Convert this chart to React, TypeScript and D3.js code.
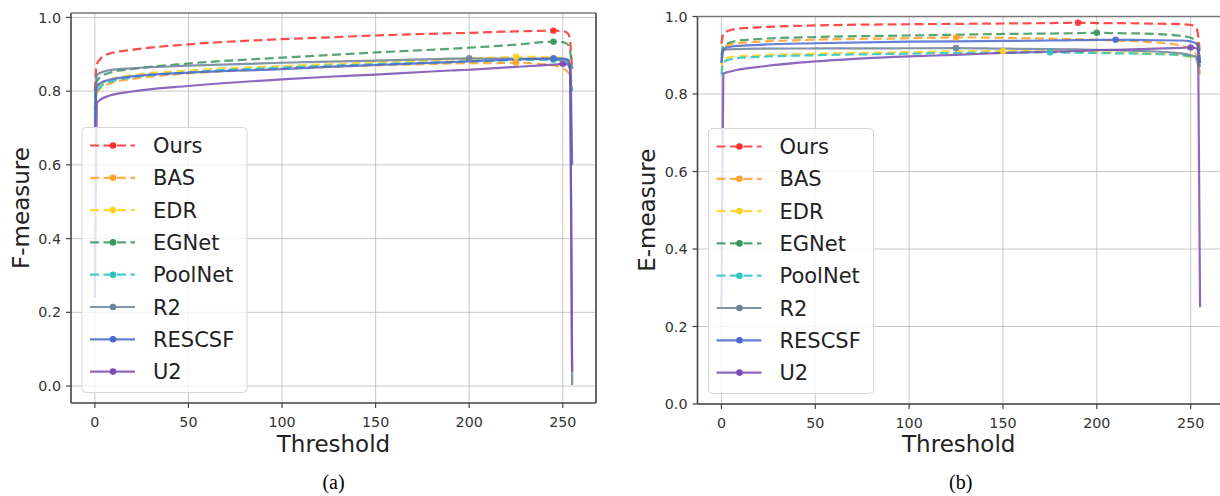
import React from 'react';
import * as d3 from 'd3';

// thresholds shared by all curves
const thresholds = [0, 1, 3, 8, 20, 50, 100, 125, 150, 175, 190, 200, 210, 225, 245, 250, 253, 254, 255];

const methods = ['Ours', 'BAS', 'EDR', 'EGNet', 'PoolNet', 'R2', 'RESCSF', 'U2'];
const colors = ['#ff2d2d', '#ffa12a', '#ffd21f', '#3a955c', '#2cc3c0', '#6c8399', '#4a68cc', '#7a4db3'];
const dashed = [true, true, true, true, true, false, false, false];

// F-measure (a)
const fOurs = [0.80, 0.872, 0.888, 0.902, 0.912, 0.927, 0.941, 0.946, 0.951, 0.955, 0.957, 0.958, 0.960, 0.962, 0.964, 0.963, 0.955, 0.93, 0.86];
const fBAS = [0.72, 0.795, 0.808, 0.821, 0.833, 0.848, 0.861, 0.866, 0.870, 0.873, 0.875, 0.876, 0.876, 0.877, 0.870, 0.862, 0.85, 0.83, 0.80];
const fEDR = [0.74, 0.805, 0.818, 0.831, 0.843, 0.856, 0.868, 0.873, 0.878, 0.883, 0.886, 0.888, 0.890, 0.893, 0.892, 0.89, 0.88, 0.85, 0.80];
const fEGNet = [0.78, 0.826, 0.838, 0.850, 0.860, 0.875, 0.891, 0.898, 0.905, 0.911, 0.915, 0.918, 0.921, 0.926, 0.934, 0.933, 0.925, 0.905, 0.86];
const fPoolNet = [0.73, 0.80, 0.812, 0.825, 0.837, 0.851, 0.864, 0.869, 0.873, 0.877, 0.879, 0.881, 0.882, 0.884, 0.885, 0.883, 0.875, 0.85, 0.80];
const fR2 = [0.75, 0.842, 0.850, 0.857, 0.862, 0.869, 0.877, 0.880, 0.883, 0.886, 0.888, 0.889, 0.888, 0.888, 0.887, 0.886, 0.88, 0.85, 0.003];
const fRESCSF = [0.70, 0.812, 0.822, 0.831, 0.840, 0.850, 0.860, 0.866, 0.871, 0.876, 0.879, 0.881, 0.883, 0.886, 0.889, 0.888, 0.885, 0.86, 0.60];
const fU2 = [0.24, 0.767, 0.777, 0.788, 0.799, 0.814, 0.832, 0.839, 0.845, 0.852, 0.856, 0.858, 0.861, 0.866, 0.872, 0.874, 0.872, 0.86, 0.04];

// E-measure (b)
const eOurs = [0.93, 0.955, 0.962, 0.968, 0.972, 0.977, 0.980, 0.981, 0.982, 0.983, 0.984, 0.983, 0.983, 0.982, 0.980, 0.978, 0.970, 0.95, 0.90];
const eBAS = [0.89, 0.918, 0.925, 0.931, 0.935, 0.940, 0.944, 0.946, 0.945, 0.943, 0.941, 0.940, 0.938, 0.935, 0.925, 0.915, 0.90, 0.88, 0.85];
const eEDR = [0.86, 0.888, 0.893, 0.897, 0.900, 0.904, 0.908, 0.910, 0.911, 0.910, 0.909, 0.908, 0.907, 0.905, 0.90, 0.895, 0.885, 0.87, 0.85];
const eEGNet = [0.90, 0.923, 0.930, 0.937, 0.942, 0.947, 0.951, 0.953, 0.955, 0.956, 0.957, 0.958, 0.957, 0.956, 0.950, 0.945, 0.935, 0.92, 0.88];
const ePoolNet = [0.85, 0.882, 0.887, 0.892, 0.896, 0.900, 0.904, 0.906, 0.9065, 0.9075, 0.9065, 0.906, 0.905, 0.904, 0.90, 0.897, 0.89, 0.88, 0.86];
const eR2 = [0.88, 0.912, 0.915, 0.916, 0.917, 0.9175, 0.918, 0.9185, 0.917, 0.916, 0.915, 0.914, 0.913, 0.911, 0.905, 0.90, 0.895, 0.89, 0.87];
const eRESCSF = [0.88, 0.915, 0.920, 0.924, 0.927, 0.931, 0.935, 0.936, 0.937, 0.938, 0.939, 0.9395, 0.940, 0.939, 0.938, 0.936, 0.93, 0.92, 0.88];
const eU2 = [0.25, 0.853, 0.856, 0.862, 0.870, 0.884, 0.897, 0.901, 0.906, 0.909, 0.911, 0.913, 0.914, 0.916, 0.919, 0.920, 0.918, 0.905, 0.25];

const fSeries = [fOurs, fBAS, fEDR, fEGNet, fPoolNet, fR2, fRESCSF, fU2];
const eSeries = [eOurs, eBAS, eEDR, eEGNet, ePoolNet, eR2, eRESCSF, eU2];

const xTicks = [0, 50, 100, 150, 200, 250];
const yTicks = [0, 0.2, 0.4, 0.6, 0.8, 1.0];

const FONT = 'DejaVu Sans, sans-serif';

type PanelProps = {
  left: number;
  right: number;
  top: number;
  bottom: number;
  yDomain: [number, number];
  yLabel: string;
  yLabelX: number;
  caption: string;
  series: number[][];
  rightSpine: boolean;
};

const Panel = ({ left, right, top, bottom, yDomain, yLabel, yLabelX, caption, series, rightSpine }: PanelProps) => {
  const x = d3.scaleLinear().domain([-12.75, 267.75]).range([left, right]);
  const y = d3.scaleLinear().domain(yDomain).range([bottom, top]);
  const line = d3.line<number>()
    .x((_, i) => x(thresholds[i]))
    .y(d => y(d))
    .curve(d3.curveMonotoneX);

  const cx = (left + Math.min(right, 1220)) / 2;
  const midX = (left + right) / 2;
  const legX = left + 11;
  const legW = 165;
  const legH = 265;
  const legY = bottom - 10.5 - legH;

  return (
    <g>
      <defs>
        <clipPath id={`clip-${caption}`}>
          <rect x={left} y={top} width={right - left} height={bottom - top} />
        </clipPath>
      </defs>
      {/* grid */}
      {xTicks.map(t => (
        <line key={'gx' + t} x1={x(t)} x2={x(t)} y1={top} y2={bottom} stroke="#b0b0b0" strokeOpacity={0.7} strokeWidth={1} />
      ))}
      {yTicks.map(t => (
        <line key={'gy' + t} x1={left} x2={right} y1={y(t)} y2={y(t)} stroke="#b0b0b0" strokeOpacity={0.7} strokeWidth={1} />
      ))}
      {/* curves */}
      <g clipPath={`url(#clip-${caption})`}>
        {series.map((s, i) => (
          <path
            key={methods[i]}
            d={line(s) || ''}
            fill="none"
            stroke={colors[i]}
            strokeOpacity={0.85}
            strokeWidth={2.2}
            strokeDasharray={dashed[i] ? '9 4.5' : undefined}
          />
        ))}
        {series.map((s, i) => {
          const k = d3.maxIndex(s);
          return <circle key={'m' + i} cx={x(thresholds[k])} cy={y(s[k])} r={3.3} fill={colors[i]} fillOpacity={0.9} />;
        })}
      </g>
      {/* spines */}
      <line x1={left} x2={left} y1={top} y2={bottom} stroke="#444" strokeWidth={1.6} />
      <line x1={left} x2={right} y1={bottom} y2={bottom} stroke="#444" strokeWidth={1.6} />
      <line x1={left} x2={right} y1={top} y2={top} stroke="#777" strokeWidth={1.6} />
      {rightSpine && <line x1={right} x2={right} y1={top} y2={bottom} stroke="#555" strokeWidth={1.8} />}
      {/* ticks */}
      {xTicks.map(t => (
        <g key={'tx' + t}>
          <line x1={x(t)} x2={x(t)} y1={bottom} y2={bottom + 5} stroke="#444" strokeWidth={1.2} />
          <text x={x(t)} y={bottom + 24} textAnchor="middle" fontSize={14.3} fill="#333" fontFamily={FONT}>{t}</text>
        </g>
      ))}
      {yTicks.map(t => (
        <g key={'ty' + t}>
          <line x1={left - 5} x2={left} y1={y(t)} y2={y(t)} stroke="#444" strokeWidth={1.2} />
          <text x={left - 10} y={y(t)} dy="0.36em" textAnchor="end" fontSize={14.3} fill="#333" fontFamily={FONT}>{t.toFixed(1)}</text>
        </g>
      ))}
      {/* axis labels */}
      <text x={cx} y={452} textAnchor="middle" fontSize={23} fill="#222" fontFamily={FONT}>Threshold</text>
      <text transform={`translate(${yLabelX},${(top + bottom) / 2}) rotate(-90)`} textAnchor="middle" dy="0.36em" fontSize={23} fill="#222" fontFamily={FONT}>{yLabel}</text>
      {/* legend */}
      <rect x={legX} y={legY} width={legW} height={legH} rx={4} fill="#fff" fillOpacity={0.8} stroke="#d6d6d6" strokeWidth={1} />
      {methods.map((m, i) => {
        const ly = legY + 18 + i * 32.3;
        return (
          <g key={'l' + m}>
            <line x1={legX + 8} x2={legX + 53} y1={ly} y2={ly} stroke={colors[i]} strokeOpacity={0.85} strokeWidth={2.2} strokeDasharray={dashed[i] ? '9 4.5' : undefined} />
            <circle cx={legX + 31} cy={ly} r={3.3} fill={colors[i]} />
            <text x={legX + 71} y={ly} dy="0.36em" fontSize={21} fill="#222" fontFamily={FONT}>{m}</text>
          </g>
        );
      })}
      <text x={midX > 1220 ? cx : midX} y={489} textAnchor="middle" fontSize={20} fill="#000" fontFamily="Liberation Serif, Times New Roman, serif">{caption}</text>
    </g>
  );
};

const App = () => {
  return (
    <svg width={1220} height={496} style={{ position: 'absolute', left: 0, top: 0, background: '#fff' }}>
      <rect width={1220} height={496} fill="#fff" />
      <Panel
        left={71}
        right={596}
        top={13}
        bottom={403}
        yDomain={[-0.046, 1.012]}
        yLabel="F-measure"
        yLabelX={21}
        caption="(a)"
        series={fSeries}
        rightSpine={true}
      />
      <Panel
        left={697.5}
        right={1224}
        top={16.5}
        bottom={404}
        yDomain={[0, 1]}
        yLabel="E-measure"
        yLabelX={647}
        caption="(b)"
        series={eSeries}
        rightSpine={false}
      />
    </svg>
  );
};

export default App;
